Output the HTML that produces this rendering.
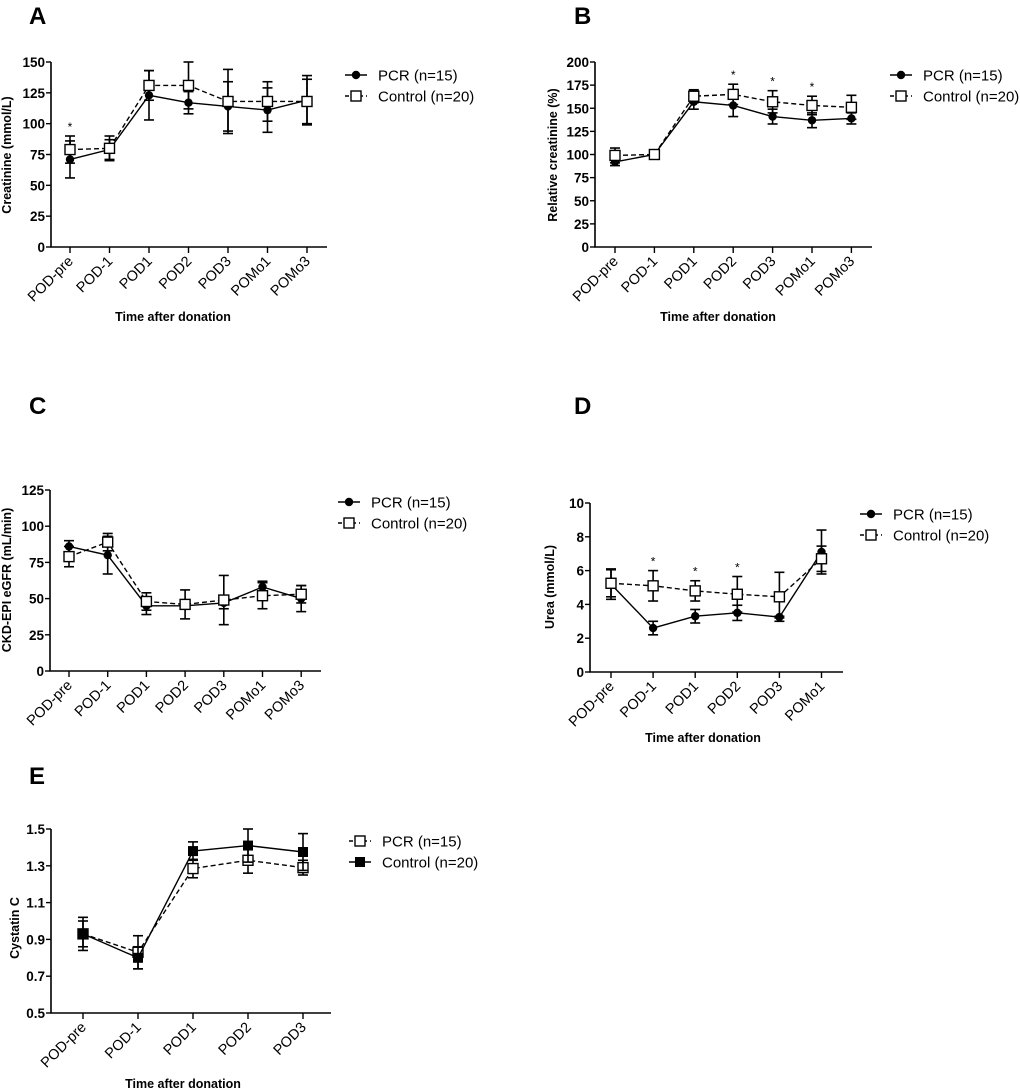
<!DOCTYPE html>
<html><head><meta charset="utf-8"><style>
html,body{margin:0;padding:0;background:#fff;}
svg{display:block;font-family:"Liberation Sans",Arial,sans-serif;}
</style></head><body>
<svg id="fig" width="1020" height="1092" viewBox="0 0 1020 1092"></svg>
<script>
const NS="http://www.w3.org/2000/svg";
// Panel A
const catsA=["POD-pre","POD-1","POD1","POD2","POD3","POMo1","POMo3"];
const pcrA=[71,79,123,117,114,111,119];
const pcrErrA=[15,8,20,9,20,18,20];
const ctlA=[79,80,131,131,118,118,118];
const ctlErrA=[11,10,12,19,26,16,18];
const ticksA=[0,25,50,75,100,125,150];
const starsA=[0];
// Panel B
const catsB=["POD-pre","POD-1","POD1","POD2","POD3","POMo1","POMo3"];
const pcrB=[92,100,157,153,141,137,139];
const pcrErrB=[4,1,8,12,8,8,6];
const ctlB=[99,100,163,165,157,153,151];
const ctlErrB=[8,1,7,11,12,10,13];
const ticksB=[0,25,50,75,100,125,150,175,200];
const starsB=[3,4,5];
// Panel C
const catsC=["POD-pre","POD-1","POD1","POD2","POD3","POMo1","POMo3"];
const pcrC=[86,80,45,45,47,58,50];
const pcrErrC=[4,13,6,2,4,4,9];
const ctlC=[79,89,48,46,49,52,53];
const ctlErrC=[7,6,6,10,17,9,6];
const ticksC=[0,25,50,75,100,125];
const starsC=[];
// Panel D
const catsD=["POD-pre","POD-1","POD1","POD2","POD3","POMo1"];
const pcrD=[5.2,2.6,3.3,3.5,3.25,7.1];
const pcrErrD=[0.9,0.4,0.4,0.45,0.05,1.3];
const ctlD=[5.25,5.1,4.8,4.6,4.45,6.7];
const ctlErrD=[0.8,0.9,0.6,1.05,1.45,0.75];
const ticksD=[0,2,4,6,8,10];
const starsD=[1,2,3];
// Panel E
const catsE=["POD-pre","POD-1","POD1","POD2","POD3"];
const pcrE=[0.93,0.83,1.285,1.33,1.29];
const pcrErrE=[0.07,0.09,0.05,0.07,0.04];
const ctlE=[0.93,0.80,1.38,1.41,1.375];
const ctlErrE=[0.09,0.06,0.05,0.09,0.10];
const ticksE=["0.5","0.7","0.9","1.1","1.3","1.5"];
const starsE=[];

const svg=document.getElementById('fig');
function el(tag,attrs,parent){const e=document.createElementNS(NS,tag);for(const k in attrs)e.setAttribute(k,attrs[k]);(parent||svg).appendChild(e);return e;}

function panel(cfg){
  const g=el('g',{});
  
  
  const t=el('text',{x:cfg.lx,y:cfg.ly,'font-size':24,'font-weight':'bold'},g);t.textContent=cfg.letter;
  
  
  const yMin=cfg.yMin,yMax=cfg.yMax;
  const Y=v=>cfg.y0+(v-yMin)/(yMax-yMin)*(cfg.y1-cfg.y0);
  const X=i=>cfg.xs0+i*cfg.dx;
  const ax=el('path',{d:`M${cfg.ax},${cfg.y1} L${cfg.ax},${cfg.y0} L${cfg.axEnd},${cfg.y0}`,stroke:'#000','stroke-width':1.6,fill:'none'},g);
  
  
  cfg.ticks.forEach(tv=>{
    const v=parseFloat(tv),y=Y(v);
    el('line',{x1:cfg.ax-5,x2:cfg.ax,y1:y,y2:y,stroke:'#000','stroke-width':1.4},g);
    const tl=el('text',{x:cfg.ax-6,y:y+5,'font-size':13.5,'font-weight':'bold','text-anchor':'end'},g);
    tl.textContent=tv;
    
    
  });
  cfg.cats.forEach((c,i)=>{
    const x=X(i);
    el('line',{x1:x,x2:x,y1:cfg.y0,y2:cfg.y0+6,stroke:'#000','stroke-width':1.4},g);
    const tl=el('text',{x:x+4,y:cfg.y0+15,'font-size':14.5,'text-anchor':'end',transform:`rotate(-45 ${x+4} ${cfg.y0+15})`},g);
    tl.textContent=c;
    
    
  });
  const yt=el('text',{x:0,y:0,'font-size':12.5,'font-weight':'bold','text-anchor':'middle',transform:`translate(${cfg.ytx},${cfg.yty}) rotate(-90)`},g);
  yt.textContent=cfg.ytitle;
  
  
  if(cfg.xtitle){
    const xt=el('text',{x:cfg.xtx,y:cfg.xty,'font-size':12.5,'font-weight':'bold','text-anchor':'middle'},g);
    xt.textContent='Time after donation';
    
    
  }
  function series(vals,errs,dashed,marker,name){
    const sg=el('g',{},g);
    
    
    vals.forEach((v,i)=>{
      const x=X(i);
      el('line',{x1:x,x2:x,y1:Y(v-errs[i]),y2:Y(v+errs[i]),stroke:'#000','stroke-width':1.6},sg);
      [v-errs[i],v+errs[i]].forEach(e=>el('line',{x1:x-5,x2:x+5,y1:Y(e),y2:Y(e),stroke:'#000','stroke-width':1.6},sg));
    });
    el('polyline',{points:vals.map((v,i)=>X(i)+','+Y(v)).join(' '),fill:'none',stroke:'#000','stroke-width':1.4,'stroke-dasharray':dashed?'5,3':'none'},sg);
    vals.forEach((v,i)=>drawMarker(sg,marker,X(i),Y(v)));
  }
  series(cfg.pcr,cfg.pcrErr,cfg.pcrDashed,cfg.pcrMarker,'pcr-series');
  series(cfg.ctl,cfg.ctlErr,cfg.ctlDashed,cfg.ctlMarker,'control-series');
  cfg.stars.forEach(i=>{
    const top=Math.max(cfg.pcr[i]+cfg.pcrErr[i],cfg.ctl[i]+cfg.ctlErr[i]);
    const s=el('text',{x:X(i),y:Y(top)-5,'font-size':12,'text-anchor':'middle'},g);
    s.textContent='*';
    
    
  });
  const legs=[['PCR (n=15)',cfg.pcrDashed,cfg.pcrMarker],['Control (n=20)',cfg.ctlDashed,cfg.ctlMarker]];
  legs.forEach((l,k)=>{
    const y=cfg.legY+k*21;
    const lg=el('g',{},g);
    
    
    el('line',{x1:cfg.legX,x2:cfg.legX+22,y1:y,y2:y,stroke:'#000','stroke-width':1.4,'stroke-dasharray':l[1]?'4,3':'none'},lg);
    drawMarker(lg,l[2],cfg.legX+11,y);
    const lt=el('text',{x:cfg.legX+33,y:y+5.5,'font-size':15},lg);
    lt.textContent=l[0];
  });
}
function drawMarker(g,m,x,y){
  if(m==='dot')el('circle',{cx:x,cy:y,r:4.2,fill:'#000'},g);
  else if(m==='open')el('rect',{x:x-5,y:y-5,width:10,height:10,fill:'#fff',stroke:'#000','stroke-width':1.4},g);
  else if(m==='fill')el('rect',{x:x-5,y:y-5,width:10,height:10,fill:'#000'},g);
}
panel({letter:'A',lx:29,ly:24,cats:catsA,pcr:pcrA,pcrErr:pcrErrA,ctl:ctlA,ctlErr:ctlErrA,ticks:ticksA,stars:starsA,
  yMin:0,yMax:150,y0:247,y1:62,ax:51,axEnd:327,xs0:70,dx:39.5,ytitle:'Creatinine (mmol/L)',ytx:11,yty:155,
  xtitle:true,xtx:173,xty:321,legX:345,legY:75,pcrDashed:false,pcrMarker:'dot',ctlDashed:true,ctlMarker:'open'});
panel({letter:'B',lx:574,ly:24,cats:catsB,pcr:pcrB,pcrErr:pcrErrB,ctl:ctlB,ctlErr:ctlErrB,ticks:ticksB,stars:starsB,
  yMin:0,yMax:200,y0:247,y1:62,ax:595,axEnd:872,xs0:615,dx:39.4,ytitle:'Relative creatinine (%)',ytx:557,yty:155,
  xtitle:true,xtx:718,xty:321,legX:890,legY:75,pcrDashed:false,pcrMarker:'dot',ctlDashed:true,ctlMarker:'open'});
panel({letter:'C',lx:29,ly:414,cats:catsC,pcr:pcrC,pcrErr:pcrErrC,ctl:ctlC,ctlErr:ctlErrC,ticks:ticksC,stars:starsC,
  yMin:0,yMax:125,y0:671,y1:490,ax:50,axEnd:321,xs0:69,dx:38.7,ytitle:'CKD-EPI eGFR (mL/min)',ytx:11,yty:580,
  xtitle:false,legX:338,legY:502,pcrDashed:false,pcrMarker:'dot',ctlDashed:true,ctlMarker:'open'});
panel({letter:'D',lx:574,ly:414,cats:catsD,pcr:pcrD,pcrErr:pcrErrD,ctl:ctlD,ctlErr:ctlErrD,ticks:ticksD,stars:starsD,
  yMin:0,yMax:10,y0:672,y1:503,ax:590,axEnd:843,xs0:611,dx:42.1,ytitle:'Urea (mmol/L)',ytx:554,yty:587,
  xtitle:true,xtx:703,xty:742,legX:860,legY:514,pcrDashed:false,pcrMarker:'dot',ctlDashed:true,ctlMarker:'open'});
panel({letter:'E',lx:29,ly:784,cats:catsE,pcr:pcrE,pcrErr:pcrErrE,ctl:ctlE,ctlErr:ctlErrE,ticks:ticksE,stars:starsE,
  yMin:0.5,yMax:1.5,y0:1013,y1:829,ax:51,axEnd:331,xs0:83,dx:55,ytitle:'Cystatin C',ytx:19,yty:928,
  xtitle:true,xtx:183,xty:1088,legX:349,legY:841,pcrDashed:true,pcrMarker:'open',ctlDashed:false,ctlMarker:'fill'});
</script>
</body></html>
